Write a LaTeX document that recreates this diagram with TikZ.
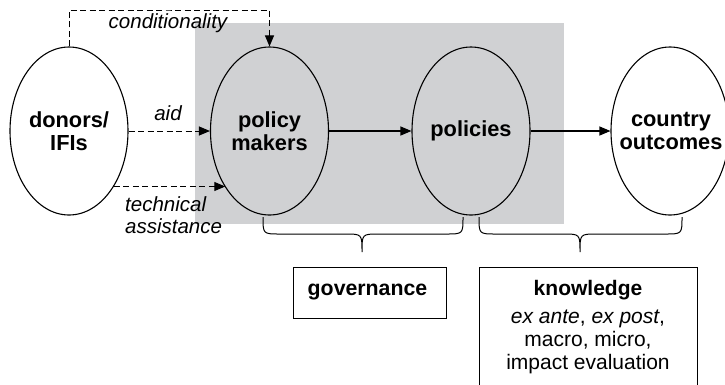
\documentclass[tikz,border=0pt]{standalone}
\usepackage{fontspec}
\setmainfont{Liberation Sans}
\usetikzlibrary{shapes.geometric,arrows.meta}
\definecolor{areagray}{RGB}{208,209,211}
\tikzset{
  actor/.style={draw, ellipse, line width=1.1pt, minimum width=118pt, minimum height=168pt, inner sep=0pt},
  actortext/.style={font=\bfseries\fontsize{21.8}{23}\selectfont, align=center, inner sep=0pt},
  flowlabel/.style={font=\itshape\fontsize{20.5}{21.5}\selectfont, inner sep=0pt},
  mainflow/.style={line width=1.1pt, -{Triangle[length=11pt,width=9pt]}},
  support/.style={line width=1pt, dash pattern=on 6pt off 3.5pt, -{Triangle[length=11pt,width=9pt]}},
  brace/.style={line width=1pt},
  infobox/.style={draw, line width=1pt, rectangle, inner sep=0pt},
  boxtext/.style={font=\fontsize{21}{23}\selectfont, align=center, inner sep=0pt}
}
\begin{document}
\begin{tikzpicture}[x=1pt,y=-1pt]
\useasboundingbox (0,0) rectangle (725,384);
\clip (0,0) rectangle (725,384);

% shaded domestic policy area
\fill[areagray] (195,23) rectangle (564,224);

% actors
\node[actor, fill=white] (don) at (69,131) {};
\node[actortext] (dontxt) at (don.center) {donors/\\IFIs};
\node[actor] (pm) at (269.5,131) {};
\node[actortext] (pmtxt) at (pm.center) {policy\\makers};
\node[actor] (pol) at (471,131) {};
\node[actortext] (poltxt) at (pol.center) {policies};
\node[actor, fill=white] (co) at (670,131) {};
\node[actortext] (cotxt) at (671,131) {country\\outcomes};

% main causal chain
\draw[mainflow] (pm.east) -- (pol.west);
\draw[mainflow] (pol.east) -- (co.west);

% external support channels
\coordinate (ctop) at (170,10);
\draw[support] (don.north) |- (ctop) -| (pm.north);
\node[flowlabel, anchor=base] (condlbl) at (168,28) {conditionality};

\draw[support] (don.east) -- (pm.west);
\node[flowlabel, anchor=base] (aidlbl) at (168,120) {aid};

\draw[support] (don.-51) -- (don.-51 -| pm.-128);
\node[flowlabel, anchor=west, align=left] (talbl) at (125,215) {technical\\assistance};

% braces grouping the chain
\draw[brace] (263,217) .. controls (263,234) .. (280,234) -- (345,234)
  .. controls (362,234) .. (362,252) .. controls (362,234) .. (379,234)
  -- (446,234) .. controls (463,234) .. (463,217);
\draw[brace] (479,217) .. controls (479,234) .. (496,234) -- (563,234)
  .. controls (580,234) .. (580,252) .. controls (580,234) .. (597,234)
  -- (665,234) .. controls (682,234) .. (682,217);

% boxes
\node[infobox, minimum width=153pt, minimum height=51pt] (gov) at (369.5,292.5) {};
\node[boxtext, font=\bfseries\fontsize{21.3}{23}\selectfont] (govtxt) at (367.5,292.5) {governance};
\node[infobox, anchor=north west, minimum width=218pt, minimum height=135pt] (kbox) at (479,267) {};
\node[boxtext, anchor=north] (ktxt) at (588,280.5)
  {\textbf{knowledge}\\[5pt]\textit{ex ante}, \textit{ex post},\\macro, micro,\\impact evaluation};
\end{tikzpicture}
\end{document}
